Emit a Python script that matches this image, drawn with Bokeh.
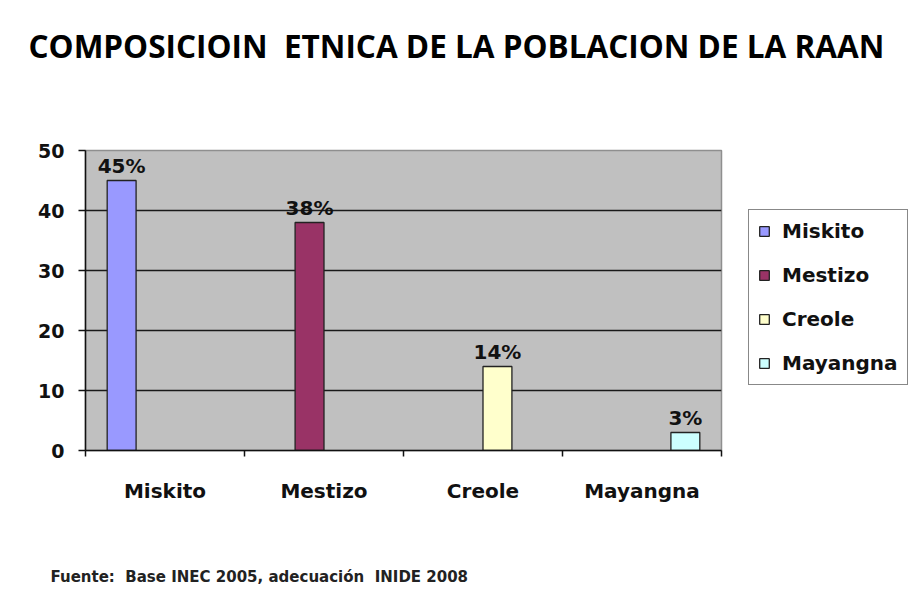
from bokeh.plotting import figure
from bokeh.models import (ColumnDataSource, Range1d, FixedTicker, Legend, LegendItem,
                          LabelSet, Title)
from bokeh.core.properties import value
from bokeh.embed import file_html
from bokeh.resources import INLINE

# ---- data ----
categories = ["Miskito", "Mestizo", "Creole", "Mayangna"]
series = ["Miskito", "Mestizo", "Creole", "Mayangna"]
values = [45, 38, 14, 3]
pct_labels = ["45%", "38%", "14%", "3%"]
colors = ["#9999FF", "#993366", "#FFFFCC", "#CCFFFF"]
y_ticks = [0, 10, 20, 30, 40, 50]
title_text = "COMPOSICIOIN \u00a0ETNICA DE LA POBLACION DE LA RAAN"
source_text = "Fuente: \u00a0Base INEC 2005, adecuación \u00a0INIDE 2008"

FONT = "DejaVu Sans"
TFONT = "Open Sans"

n = len(series)
gap_width = 1.5
bw = 1.0 / (n + gap_width)
# each series only has a value in its own category (clustered bar layout)
xs = [ci + 0.5 + (si - (n - 1) / 2) * bw for si, ci in zip(range(n), range(len(categories)))]

p = figure(frame_width=636, frame_height=300, output_backend="svg", toolbar_location=None,
           x_range=Range1d(0, len(categories)), y_range=Range1d(0, 50),
           min_border_left=85, min_border_right=179, min_border_top=150,
           min_border_bottom=140)
p.title.text = ""

p.background_fill_color = "#C0C0C0"
p.border_fill_color = "white"
p.outline_line_color = "#8f8f8f"
p.outline_line_width = 1.5

renderers = []
for i in range(n):
    src = ColumnDataSource(dict(x=[xs[i]], top=[values[i]]))
    r = p.vbar(x="x", top="top", bottom=0, width=bw, source=src,
               fill_color=colors[i], line_color="#222222", line_width=1.3)
    renderers.append(r)

lab_src = ColumnDataSource(dict(x=xs, y=values, t=pct_labels))
p.add_layout(LabelSet(x="x", y="y", text="t", source=lab_src, y_offset=3,
                      text_align="center", text_baseline="bottom",
                      text_font=value(FONT), text_font_style="bold",
                      text_font_size="20px", text_color="#111111"))

# x axis: labels at category centres, tick marks at boundaries
xa = p.xaxis[0]
xa.ticker = FixedTicker(ticks=[i + 0.5 for i in range(len(categories))],
                        minor_ticks=list(range(len(categories) + 1)))
xa.major_label_overrides = {i + 0.5: c for i, c in enumerate(categories)}
xa.major_tick_line_color = None
xa.minor_tick_in = 0
xa.minor_tick_out = 6
xa.minor_tick_line_color = "#111111"
xa.minor_tick_line_width = 1.5
xa.axis_line_color = "#111111"
xa.axis_line_width = 1.5
xa.major_label_standoff = 22
xa.major_label_text_font = FONT
xa.major_label_text_font_style = "bold"
xa.major_label_text_font_size = "20px"
xa.major_label_text_color = "#111111"

ya = p.yaxis[0]
ya.ticker = FixedTicker(ticks=y_ticks)
ya.major_tick_in = 0
ya.major_tick_out = 7
ya.major_tick_line_width = 1.5
ya.major_tick_line_color = "#111111"
ya.minor_tick_line_color = None
ya.axis_line_color = "#111111"
ya.axis_line_width = 1.5
ya.major_label_standoff = 14
ya.major_label_text_font = FONT
ya.major_label_text_font_style = "bold"
ya.major_label_text_font_size = "19px"
ya.major_label_text_color = "#111111"

p.xgrid.grid_line_color = None
p.ygrid.ticker = FixedTicker(ticks=y_ticks[1:-1])
p.ygrid.grid_line_color = "#1a1a1a"
p.ygrid.grid_line_width = 1.5

legend = Legend(items=[LegendItem(label=s, renderers=[r]) for s, r in zip(series, renderers)],
                location=(27, 65), orientation="vertical",
                glyph_width=12, glyph_height=12, label_height=20, spacing=20,
                padding=9, margin=0, label_standoff=12,
                label_text_font=FONT, label_text_font_style="bold",
                label_text_font_size="20px", label_text_color="#111111",
                border_line_color="#111111", border_line_width=1.2,
                background_fill_color="white", background_fill_alpha=1)
p.add_layout(legend, "right")

# spacer between the frame and the heading, then the heading itself
p.add_layout(Title(text="\u00a0", standoff=66, text_font=FONT, text_font_size="10px",
                   text_color="white"), "above")
p.add_layout(Title(text=title_text, align="left", offset=-57, standoff=10, text_font=TFONT,
                   text_font_style="bold", text_font_size="31.5px", text_color="#000000"),
             "above")

# spacer below the axis, then the source note
p.add_layout(Title(text="\u00a0", standoff=47, text_font=FONT, text_font_size="10px",
                   text_color="white"), "below")
p.add_layout(Title(text=source_text, align="left", offset=-35, standoff=0,
                   text_font=FONT, text_font_style="bold", text_font_size="15px",
                   text_color="#222222"), "below")

open("out.html", "w").write(file_html(p, INLINE))
